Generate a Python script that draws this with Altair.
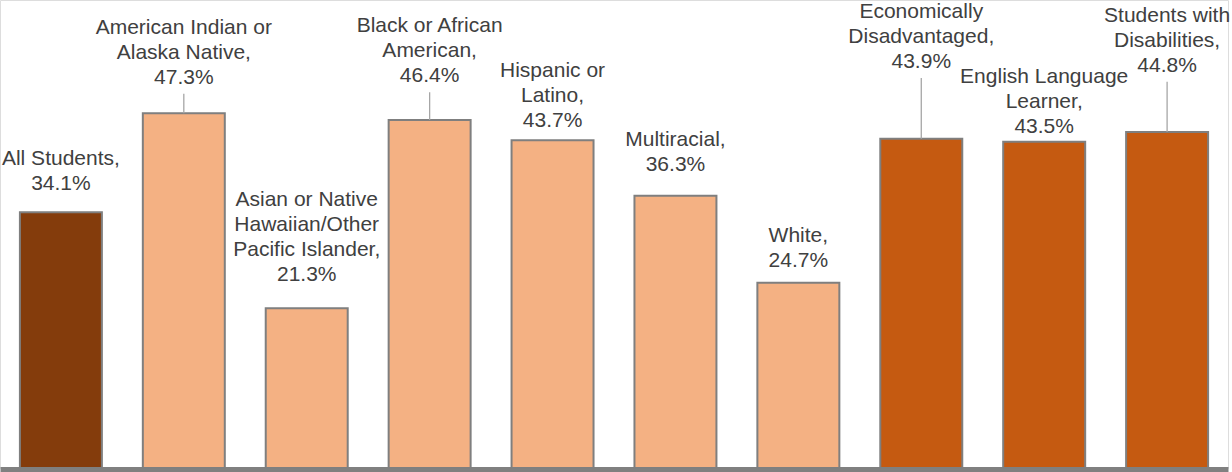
import altair as alt
import pandas as pd

categories = [
    "All Students",
    "American Indian or Alaska Native",
    "Asian or Native Hawaiian/Other Pacific Islander",
    "Black or African American",
    "Hispanic or Latino",
    "Multiracial",
    "White",
    "Economically Disadvantaged",
    "English Language Learner",
    "Students with Disabilities",
]
label_names = [
    "All Students",
    "American Indian or\nAlaska Native",
    "Asian or Native\nHawaiian/Other\nPacific Islander",
    "Black or African\nAmerican",
    "Hispanic or\nLatino",
    "Multiracial",
    "White",
    "Economically\nDisadvantaged",
    "English Language\nLearner",
    "Students with\nDisabilities",
]
values = [34.1, 47.3, 21.3, 46.4, 43.7, 36.3, 24.7, 43.9, 43.5, 44.8]
groups = ["all", "race", "race", "race", "race", "race", "race", "sub", "sub", "sub"]
# label anchor (bottom of label) in % units, and whether a leader line is drawn
label_pos = [36.5, 50.7, 24.4, 50.9, 44.9, 39.1, 26.3, 52.8, 44.1, 52.3]
leader = [False, True, False, True, False, False, False, True, False, True]

LINE_H_PX = 25
PX_PER_PCT = 468 / 62.4

labels = [f"{n},\n{v:.1f}%" for n, v in zip(label_names, values)]
nlines = [s.count("\n") + 1 for s in labels]

df = pd.DataFrame({
    "cat": categories,
    "value": values,
    "group": groups,
    "label": labels,
    "lpos": label_pos,
    "tpos": [p + (k - 1) * LINE_H_PX / PX_PER_PCT for p, k in zip(label_pos, nlines)],
    "leader": leader,
})

x = alt.X("cat:N", sort=categories,
          scale=alt.Scale(paddingInner=0.333, paddingOuter=0.162),
          axis=alt.Axis(labels=False, ticks=False, title=None, domain=True,
                        domainColor="#808080", domainWidth=5, offset=1, grid=False))
yscale = alt.Scale(domain=[0, 62.4], nice=False, zero=True)

bars = alt.Chart(df).mark_bar(stroke="#7F7F7F", strokeWidth=2).encode(
    x=x,
    y=alt.Y("value:Q", scale=yscale, axis=None),
    color=alt.Color("group:N", scale=alt.Scale(domain=["all", "race", "sub"],
                                               range=["#843C0C", "#F4B183", "#C55A11"]),
                    legend=None),
)

lines = alt.Chart(df).transform_filter("datum.leader").mark_rule(
    color="#A6A6A6", strokeWidth=1.3, yOffset=6
).encode(
    x=alt.X("cat:N", sort=categories),
    y=alt.Y("lpos:Q", scale=yscale),
    y2="value:Q",
)

texts = alt.Chart(df).mark_text(
    font="Liberation Sans", fontSize=21, lineHeight=25, lineBreak="\n",
    baseline="bottom", align="center", color="#404040"
).encode(
    x=alt.X("cat:N", sort=categories),
    y=alt.Y("tpos:Q", scale=yscale),
    text="label:N",
)

chart = alt.layer(bars, lines, texts).properties(
    width=1228, height=468,
    autosize=alt.AutoSizeParams(type="none"),
    padding={"left": 0, "top": 0, "right": 4, "bottom": 4},
).configure_view(stroke=None).configure(background="white")

chart.save("out.html", embed_options={"renderer": "svg", "actions": False})
